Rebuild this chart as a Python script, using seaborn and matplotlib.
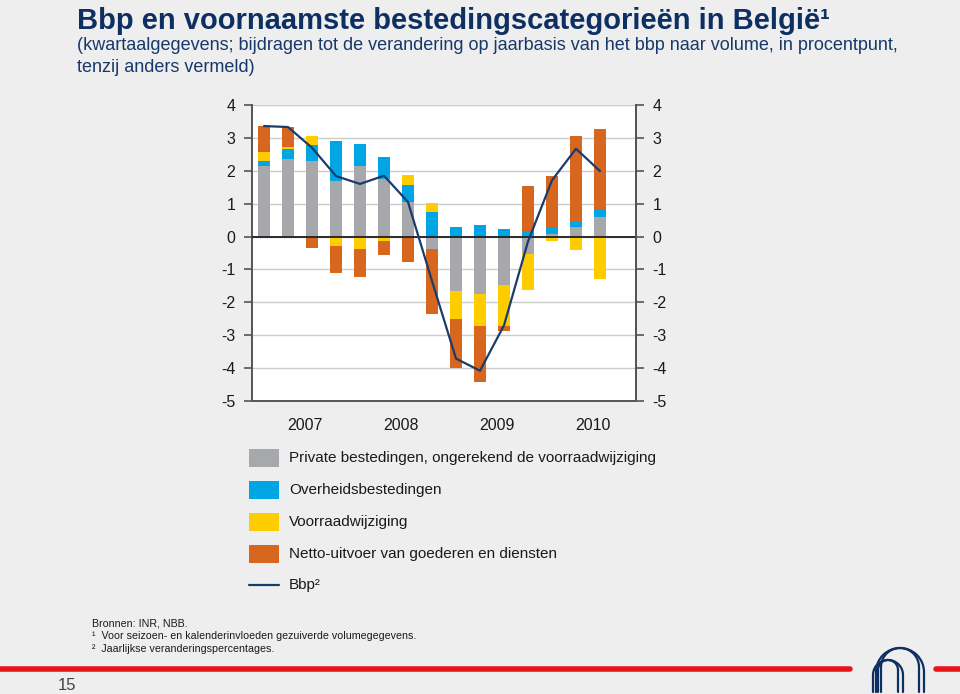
import numpy as np
import pandas as pd
import matplotlib
matplotlib.use("Agg")
import matplotlib.pyplot as plt
import seaborn as sns
from matplotlib.patches import Rectangle, Arc
from matplotlib.lines import Line2D

# ---------------- data ----------------
quarters = ["2007K1", "2007K2", "2007K3", "2007K4",
            "2008K1", "2008K2", "2008K3", "2008K4",
            "2009K1", "2009K2", "2009K3", "2009K4",
            "2010K1", "2010K2", "2010K3"]
private = [2.14, 2.35, 2.29, 1.68, 2.15, 1.76, 1.05, -0.39, -1.66, -1.76, -1.47, -0.52, 0.07, 0.29, 0.58]
overheid = [0.15, 0.31, 0.48, 1.24, 0.67, 0.65, 0.53, 0.74, 0.30, 0.36, 0.24, 0.18, 0.23, 0.14, 0.24]
voorraad = [0.27, 0.06, 0.28, -0.30, -0.37, -0.13, 0.29, 0.28, -0.84, -0.97, -1.25, -1.11, -0.15, -0.40, -1.30]
netto = [0.80, 0.61, -0.36, -0.80, -0.86, -0.43, -0.78, -1.95, -1.50, -1.70, -0.16, 1.37, 1.55, 2.63, 2.46]
bbp = [3.36, 3.33, 2.70, 1.84, 1.60, 1.85, 1.05, -1.35, -3.71, -4.08, -2.70, -0.15, 1.71, 2.67, 1.99]
years = ["2007", "2008", "2009", "2010"]
yticks = [4, 3, 2, 1, 0, -1, -2, -3, -4, -5]

series_names = ["Private bestedingen, ongerekend de voorraadwijziging",
                "Overheidsbestedingen",
                "Voorraadwijziging",
                "Netto-uitvoer van goederen en diensten"]
line_name = "Bbp²"
colors = ["#a7a8ab", "#00a6e4", "#ffcc00", "#d7661e"]
line_color = "#1b3b6c"
navy = "#0e2f62"
bg = "#eeeeee"

df = pd.DataFrame({"kwartaal": quarters, "private": private, "overheid": overheid,
                   "voorraad": voorraad, "netto": netto, "bbp": bbp})
df["pos"] = np.arange(len(df))

# ---------------- figure ----------------
sns.set_theme(style="white")
plt.rcParams["font.family"] = ["Liberation Sans", "DejaVu Sans"]
plt.rcParams["axes.unicode_minus"] = False
W, H = 960, 694
fig = plt.figure(figsize=(W / 100, H / 100), dpi=100, facecolor=bg)

def fx(px):
    return px / W

def fy(py):
    return 1 - py / H

ax = fig.add_axes([fx(252), fy(401), fx(636) - fx(252), fy(105) - fy(401)])
ax.set_facecolor("white")

# stacked diverging bars
pos_b = np.zeros(len(df))
neg_b = np.zeros(len(df))
for col, c in zip(["private", "overheid", "voorraad", "netto"], colors):
    v = df[col].to_numpy()
    bottoms = np.where(v >= 0, pos_b, neg_b)
    ax.bar(df["pos"], v, bottom=bottoms, width=0.5, color=c, linewidth=0, zorder=3)
    pos_b = pos_b + np.where(v >= 0, v, 0)
    neg_b = neg_b + np.where(v < 0, v, 0)

ax.axhline(0, color="#1e1e1e", lw=1.3, zorder=4)
sns.lineplot(data=df, x="pos", y="bbp", color=line_color, lw=1.6, ax=ax, zorder=5)

ax.set_xlim(-0.5, 15.5)
ax.set_ylim(-5, 4)
ax.set_yticks(yticks)
ax.yaxis.grid(True, color="#cbcbcb", lw=1.0, zorder=0)
ax.set_axisbelow(True)
ax.set_xlabel("")
ax.set_ylabel("")

# x ticks: year boundaries (inside), year labels as minor ticks
ax.set_xticks([3.5, 7.5, 11.5])
ax.set_xticklabels([])
ax.set_xticks([1.7, 5.7, 9.7, 13.7], minor=True)
ax.set_xticklabels(years, minor=True)
ax.tick_params(axis="x", which="major", direction="in", length=9, width=1.2, color="#555555")
ax.tick_params(axis="x", which="minor", length=0, pad=12, labelsize=11.5, labelcolor="#1a1a1a")
ax.tick_params(axis="y", direction="out", length=6, width=1.2, color="#555555",
               labelsize=11.5, labelcolor="#1a1a1a", pad=6, left=True)

ax.spines["top"].set_visible(False)
for s in ["left", "right", "bottom"]:
    ax.spines[s].set_color("#555555")
    ax.spines[s].set_linewidth(1.4)

ax2 = ax.twinx()
ax2.set_ylim(ax.get_ylim())
ax2.set_yticks(yticks)
ax2.tick_params(axis="y", direction="out", length=6, width=1.2, color="#555555",
                labelsize=11.5, labelcolor="#1a1a1a", pad=6, right=True)
for s in ["top", "left", "bottom"]:
    ax2.spines[s].set_visible(False)
ax2.spines["right"].set_color("#555555")
ax2.spines["right"].set_linewidth(1.4)
ax2.grid(False)

# ---------------- titles ----------------
fig.text(fx(77), fy(29), "Bbp en voornaamste bestedingscategorieën in België¹",
         fontsize=21, fontweight="bold", color=navy, va="baseline", ha="left")
fig.text(fx(77), fy(45), "(kwartaalgegevens; bijdragen tot de verandering op jaarbasis van het bbp naar volume, in procentpunt,",
         fontsize=13, color="#17386a", va="center", ha="left")
fig.text(fx(77), fy(68), "tenzij anders vermeld)",
         fontsize=13, color="#17386a", va="center", ha="left")

# ---------------- legend ----------------
rows = [458, 490, 522, 554]
for name, c, r in zip(series_names, colors, rows):
    fig.add_artist(Rectangle((fx(249), fy(r + 9)), fx(30), fy(r - 9) - fy(r + 9),
                             transform=fig.transFigure, color=c, lw=0))
    fig.text(fx(289), fy(r), name, fontsize=11, color="#1a1a1a", va="center", ha="left")
fig.add_artist(Line2D([fx(249), fx(279)], [fy(585), fy(585)], transform=fig.transFigure,
                      color=line_color, lw=1.6))
fig.text(fx(289), fy(585), line_name, fontsize=11, color="#1a1a1a", va="center", ha="left")

# ---------------- footnotes ----------------
fig.text(fx(92), fy(623), "Bronnen: INR, NBB.", fontsize=7.7, color="#1a1a1a", va="center")
fig.text(fx(92), fy(636), "¹  Voor seizoen- en kalenderinvloeden gezuiverde volumegegevens.",
         fontsize=7.7, color="#1a1a1a", va="center")
fig.text(fx(92), fy(649), "²  Jaarlijkse veranderingspercentages.",
         fontsize=7.7, color="#1a1a1a", va="center")

# red rule and page number
fig.add_artist(Line2D([0, fx(850)], [fy(669), fy(669)], transform=fig.transFigure, color="#e8141c", lw=4))
fig.add_artist(Line2D([fx(936), 1], [fy(669), fy(669)], transform=fig.transFigure, color="#e8141c", lw=4))
fig.text(fx(58), fy(686), "15", fontsize=12, color="#444444", va="center")

# simple logo
lax = fig.add_axes([fx(860), fy(694), fx(70), fy(640) - fy(694)])
lax.set_xlim(0, 70)
lax.set_ylim(0, 54)
lax.axis("off")
for (cx, rad, top) in [(40, 24, 46), (40, 19, 46), (28, 15, 34), (28, 10, 34)]:
    base = top - rad
    lax.add_patch(Arc((cx, base), 2 * rad, 2 * rad, theta1=0, theta2=180, color=navy, lw=1.6))
    lax.plot([cx - rad, cx - rad], [base, 2], color=navy, lw=1.6)
    lax.plot([cx + rad, cx + rad], [base, 2], color=navy, lw=1.6)

fig.savefig("out.png", dpi=100, facecolor=bg)
